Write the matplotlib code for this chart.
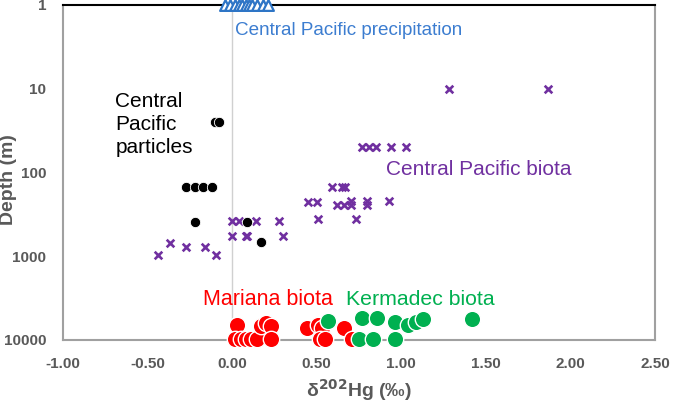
import matplotlib
matplotlib.use('Agg')
import matplotlib.pyplot as plt
from matplotlib.ticker import FixedLocator, FuncFormatter

plt.rcParams['font.family'] = ['Liberation Sans', 'DejaVu Sans']

# Central Pacific precipitation (depth 1 m)
precip_x = [-0.04, -0.01, 0.02, 0.04, 0.06, 0.08, 0.10, 0.12, 0.15, 0.18, 0.21]
precip_depth = [1] * len(precip_x)

# Central Pacific particles
part_x = [-0.10, -0.08, -0.27, -0.22, -0.17, -0.12, -0.22, 0.09, 0.17]
part_depth = [25, 25, 150, 150, 150, 150, 390, 390, 680]

# Central Pacific biota
biota_x = [-0.44, -0.37, -0.27, -0.16, -0.095,
           0.00, 0.04, 0.14, 0.28,
           0.00, 0.08, 0.09, 0.30,
           0.51, 0.73,
           0.45, 0.50, 0.70, 0.80, 0.93,
           0.62, 0.66, 0.70, 0.80,
           0.59, 0.65, 0.67,
           0.77, 0.81, 0.85, 0.94, 1.03,
           1.28, 1.87]
biota_depth = [970, 700, 780, 780, 970,
               380, 380, 380, 380,
               570, 570, 570, 570,
               360, 360,
               225, 225, 220, 220, 220,
               245, 245, 245, 245,
               150, 150, 150,
               50, 50, 50, 50, 50,
               10, 10]

# Mariana biota
mariana_x = [0.03, 0.02, 0.05, 0.08, 0.11, 0.15, 0.17, 0.20, 0.23, 0.23,
             0.44, 0.51, 0.53, 0.52, 0.55, 0.66, 0.71]
mariana_depth = [6600, 9800, 9800, 9800, 9800, 9800, 6800, 6300, 6800, 9800,
                 7300, 6600, 7200, 9800, 9800, 7200, 9800]

# Kermadec biota
kermadec_x = [0.565, 0.77, 0.855, 0.75, 0.83, 0.96, 1.04, 1.09, 1.13, 1.42, 0.96]
kermadec_depth = [5900, 5500, 5500, 9800, 9800, 6100, 6700, 6100, 5600, 5600, 9800]

xticks = [-1.0, -0.5, 0.0, 0.5, 1.0, 1.5, 2.0, 2.5]
yticks = [1, 10, 100, 1000, 10000]

fig = plt.figure(figsize=(6.77, 4.09), dpi=100)
ax = fig.add_axes([0.093, 0.169, 0.8745, 0.819])

ax.axvline(0, color='#D0D0D0', lw=1, zorder=0)

ax.scatter(precip_x, precip_depth, marker='^', s=60, facecolors='white',
           edgecolors='#2E75C6', linewidths=1.6, clip_on=False, zorder=5)
ax.scatter(part_x, part_depth, marker='o', s=55, color='black',
           edgecolors='white', linewidths=0.6, zorder=4)
ax.scatter(biota_x, biota_depth, marker='x', s=30, color='#7030A0',
           linewidths=1.9, zorder=3)
ax.scatter(mariana_x, mariana_depth, marker='o', s=140, color='#FF0000',
           edgecolors='white', linewidths=1, clip_on=False, zorder=4)
ax.scatter(kermadec_x, kermadec_depth, marker='o', s=140, color='#00B050',
           edgecolors='white', linewidths=1, clip_on=False, zorder=4)

ax.set_yscale('log')
ax.set_ylim(10000, 1)
ax.set_xlim(-1.0, 2.5)
ax.yaxis.set_major_locator(FixedLocator(yticks))
ax.yaxis.set_minor_locator(FixedLocator([]))
ax.yaxis.set_major_formatter(FuncFormatter(lambda v, p: f'{int(v)}'))
ax.set_xticks(xticks)
ax.xaxis.set_major_formatter(FuncFormatter(lambda v, p: f'{v:.2f}'))
ax.tick_params(length=0, labelsize=11, colors='#595959')
ax.tick_params(axis='y', pad=12)
ax.tick_params(axis='x', pad=12)
for lab in ax.get_xticklabels() + ax.get_yticklabels():
    lab.set_fontweight('bold')

for side in ['left', 'bottom', 'right']:
    ax.spines[side].set_color('#A0A0A0')
    ax.spines[side].set_linewidth(1.5)
ax.spines['top'].set_color('black')
ax.spines['top'].set_linewidth(1.5)

ax.set_ylabel('Depth (m)', fontsize=14, fontweight='bold', color='#595959')
ax.yaxis.set_label_coords(-0.078, 0.48)
ax.set_xlabel(r'δ$^{\mathbf{202}}$Hg (‰)', fontsize=14, fontweight='bold',
              color='#595959', labelpad=5)

ax.text(0.69, 2.0, 'Central Pacific precipitation', color='#3C7DD0', fontsize=13.6,
        ha='center', va='center')
ax.text(-0.69, 11.0, 'Central\nPacific\nparticles', color='black', fontsize=15,
        ha='left', va='top', linespacing=1.25)
ax.text(0.91, 93, 'Central Pacific biota', color='#7030A0', fontsize=15,
        ha='left', va='center')
ax.text(0.21, 3300, 'Mariana biota', color='#FF0000', fontsize=15.5,
        ha='center', va='center')
ax.text(1.115, 3300, 'Kermadec biota', color='#00B050', fontsize=15.3,
        ha='center', va='center')

fig.savefig('out.png', dpi=100)
